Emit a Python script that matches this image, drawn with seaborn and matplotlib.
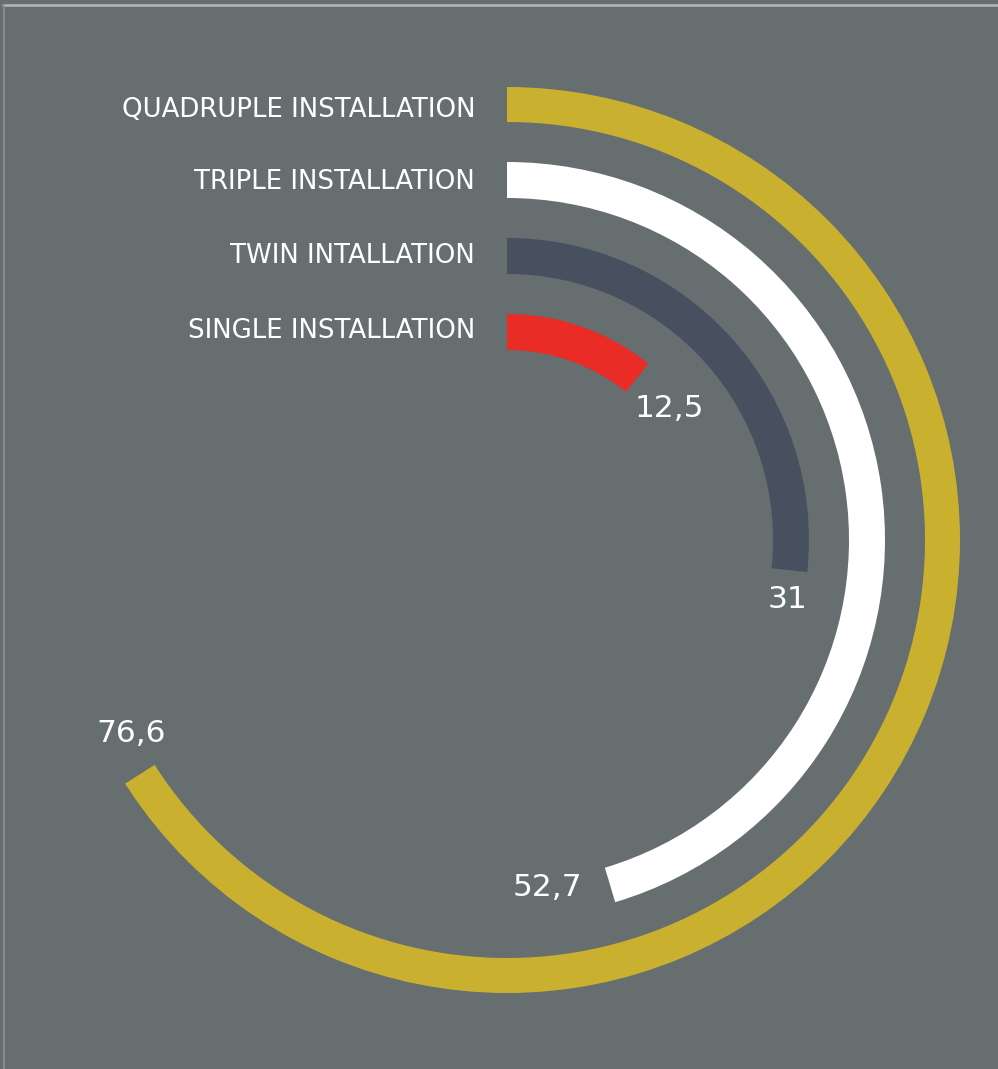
import numpy as np
import matplotlib.pyplot as plt
import seaborn as sns
from matplotlib.lines import Line2D

# Data (inner ring first)
categories = ["SINGLE INSTALLATION", "TWIN INTALLATION", "TRIPLE INSTALLATION", "QUADRUPLE INSTALLATION"]
values = [12.5, 31, 52.7, 76.6]
value_labels = ["12,5", "31", "52,7", "76,6"]

# Style
colors = ["#ea2c27", "#47505f", "#ffffff", "#cab02f"]
BG = "#676e70"
DEG_PER_UNIT = 3.1           # angular scale: 1 unit = 3.1 degrees
label_gap_deg = [12.4, 5.9, 10.0, 5.3]
label_r_shift = [1, 3, -10, -13]
cat_dy = [1, 0, -2, -6]

sns.set_theme(style="white", rc={"figure.facecolor": BG, "axes.facecolor": BG})
plt.rcParams["font.family"] = ["DejaVu Sans"]

fig = plt.figure(figsize=(9.98, 10.69), dpi=100)
ax = fig.add_axes([54 / 998, 76 / 1069, 906 / 998, 906 / 1069], projection="polar")
ax.set_theta_zero_location("N")
ax.set_theta_direction(-1)
ax.set_ylim(0, 453)
ax.axis("off")

thick = 36
inner = [190 + 76 * i for i in range(len(values))]

for i, (v, c) in enumerate(zip(values, colors)):
    w = np.deg2rad(v * DEG_PER_UNIT)
    ax.bar(w / 2, thick, width=w, bottom=inner[i], color=c, edgecolor="none")

    mid = inner[i] + thick / 2
    # category label left of the ring start
    ax.annotate(categories[i], xy=(0, mid), xytext=(-32, cat_dy[i]), textcoords="offset pixels",
                ha="right", va="center", color="white", fontsize=18.7)
    # value label just past the ring end
    t = np.deg2rad(v * DEG_PER_UNIT + label_gap_deg[i])
    ax.text(t, mid + label_r_shift[i], value_labels[i], ha="center", va="center",
            color="white", fontsize=22.5)

# thin frame lines at top and left
fig.add_artist(Line2D([3 / 998, 1], [1 - 5 / 1069] * 2, color="#b4b8ba", lw=1.8,
                      transform=fig.transFigure))
fig.add_artist(Line2D([4 / 998] * 2, [0, 1 - 5 / 1069], color="#8d9294", lw=1.2,
                      transform=fig.transFigure))

fig.savefig("out.png", dpi=100, facecolor=BG)
